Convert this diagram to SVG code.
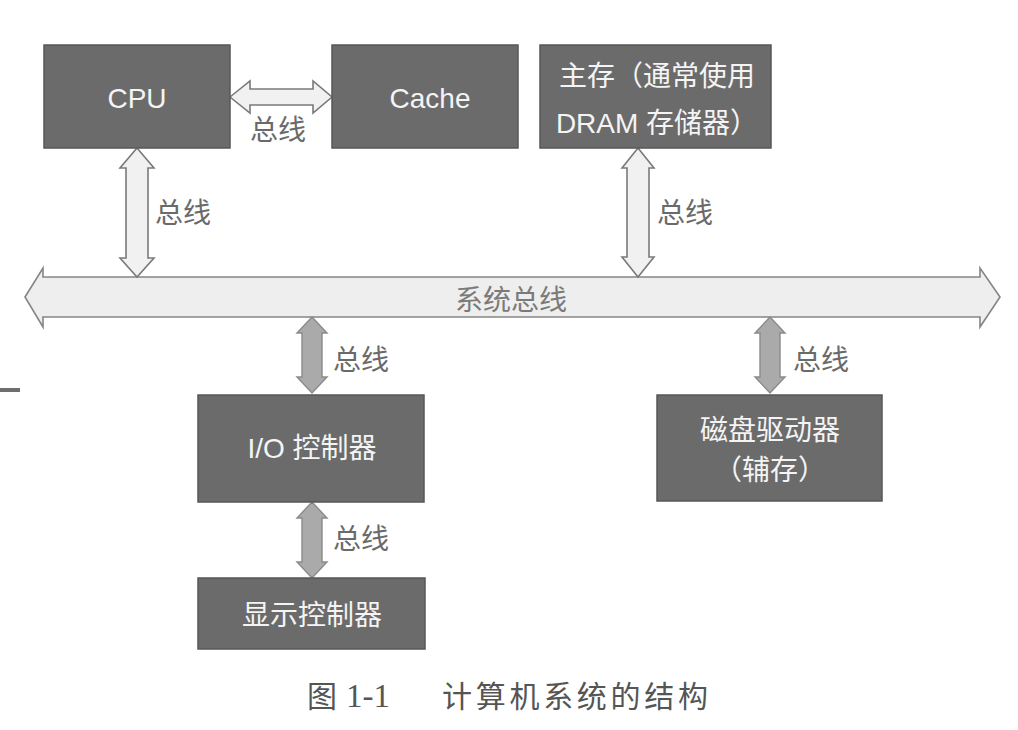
<svg xmlns="http://www.w3.org/2000/svg" width="1018" height="730" viewBox="0 0 1018 730">
<style>
.box{fill:#6b6b6b;stroke:#575757;stroke-width:1.5}
.bt{font-family:"Liberation Sans","Noto Sans CJK SC",sans-serif;font-size:28px;fill:#f4f4f4;text-anchor:middle;dominant-baseline:central}
.lbl{font-family:"Liberation Sans","Noto Sans CJK SC",sans-serif;font-size:28px;fill:#6a6a6a;dominant-baseline:central}
.hollow{fill:#f1f1f1;stroke:#7a7a7a;stroke-width:1.6;stroke-linejoin:miter}
.solid{fill:#aaaaaa;stroke:#8a8a8a;stroke-width:1.4}
.bus{fill:#eeeeee;stroke:#858585;stroke-width:1.6}
.cap{font-family:"Liberation Serif","Noto Sans CJK SC",serif;font-size:30px;fill:#555555;dominant-baseline:central}
</style>
<rect width="1018" height="730" fill="#ffffff"/>
<rect x="0" y="388" width="20" height="4" fill="#6e6e6e"/>
<g id="connectors">
<path class="bus" d="M25,297 L43,268 L43,277 L980,277 L980,268 L1000,297 L980,327 L980,317 L43,317 L43,327 Z"/>
<text class="lbl" x="511" y="300" text-anchor="middle" style="fill:#7a7a7a">系统总线</text>
<path class="hollow" d="M230,97 L250,81 L250,89 L313,89 L313,81 L332,97 L313,113 L313,105 L250,105 L250,113 Z"/>
<text class="lbl" x="250" y="130">总线</text>
<path class="hollow" d="M137,148 L154,168 L148,168 L148,258 L154,258 L137,277 L120,258 L126,258 L126,168 L120,168 Z"/>
<text class="lbl" x="155" y="213">总线</text>
<path class="hollow" d="M638,148 L654,168 L649,168 L649,257 L654,257 L638,277 L622,257 L627,257 L627,168 L622,168 Z"/>
<text class="lbl" x="657" y="213">总线</text>
<path class="solid" d="M312,317 L327,333 L322,333 L322,377 L327,377 L312,393 L297,377 L302,377 L302,333 L297,333 Z"/>
<text class="lbl" x="333" y="360">总线</text>
<path class="solid" d="M770,317 L785,333 L780,333 L780,377 L785,377 L770,393 L755,377 L760,377 L760,333 L755,333 Z"/>
<text class="lbl" x="793" y="360">总线</text>
<path class="solid" d="M312,502 L327,518 L322,518 L322,562 L327,562 L312,578 L297,562 L302,562 L302,518 L297,518 Z"/>
<text class="lbl" x="333" y="539">总线</text>
</g>
<g id="cpu">
<rect class="box" x="44" y="45" width="186" height="103"/>
<text class="bt" x="137" y="98">CPU</text>
</g>
<g id="cache">
<rect class="box" x="332" y="45" width="186" height="103"/>
<text class="bt" x="430" y="98">Cache</text>
</g>
<g id="main-memory">
<rect class="box" x="540" y="45" width="231" height="103"/>
<text class="bt" x="657" y="76">主存（通常使用</text>
<text class="bt" x="657" y="123">DRAM 存储器）</text>
</g>
<g id="io-controller">
<rect class="box" x="198" y="395" width="226" height="107"/>
<text class="bt" x="312" y="448">I/O 控制器</text>
</g>
<g id="disk">
<rect class="box" x="657" y="395" width="225" height="106"/>
<text class="bt" x="770" y="430">磁盘驱动器</text>
<text class="bt" x="770" y="470">（辅存）</text>
</g>
<g id="display-controller">
<rect class="box" x="198" y="578" width="227" height="71"/>
<text class="bt" x="312" y="615">显示控制器</text>
</g>
<g id="caption">
<text class="cap" x="307" y="696">图</text>
<text class="cap" x="346" y="696" style="font-size:33px">1-1</text>
<text class="cap" x="442" y="696" textLength="266" lengthAdjust="spacing">计算机系统的结构</text>
</g>
</svg>
